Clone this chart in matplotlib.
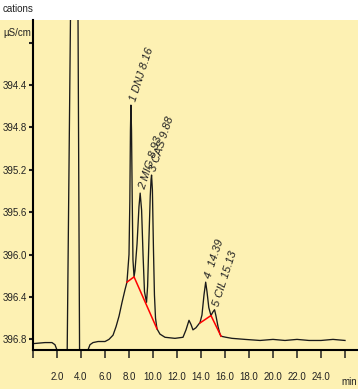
import matplotlib
matplotlib.use("Agg")
import matplotlib.pyplot as plt
from matplotlib.patches import Rectangle

# chromatogram trace, time in min, signal in uS/cm (axis drawn inverted)
trace_t = [0.00, 1.00, 1.58, 1.83, 2.00, 2.08, 2.75, 2.85, 3.19, 3.72, 3.88, 3.95,
           4.50, 4.58, 4.75, 5.00, 5.42, 6.00, 6.33, 6.67, 6.92, 7.17, 7.42, 7.67,
           7.83, 8.00, 8.07, 8.12, 8.16, 8.21, 8.27, 8.33, 8.42, 8.50, 8.67, 8.83,
           8.93, 9.05, 9.17, 9.29, 9.46, 9.55, 9.65, 9.77, 9.84, 9.88, 9.95, 10.04,
           10.12, 10.21, 10.33, 10.58, 11.00, 11.83, 12.50, 12.75, 13.00, 13.17,
           13.33, 13.58, 13.92, 14.08, 14.25, 14.39, 14.50, 14.65, 14.83, 15.00,
           15.13, 15.25, 15.42, 15.58, 15.67, 16.08, 16.58, 17.67, 18.92, 20.00,
           21.00, 22.00, 23.00, 24.00, 25.00, 26.00]
trace_v = [396.84, 396.83, 396.83, 396.85, 396.90, 397.00, 397.00, 396.90, 393.00, 393.00, 396.90, 397.00,
           397.00, 396.90, 396.85, 396.83, 396.82, 396.82, 396.80, 396.76, 396.68, 396.58, 396.45, 396.33,
           396.26, 396.00, 395.49, 394.83, 394.59, 394.83, 395.49, 396.05, 396.21, 396.15, 395.90, 395.55,
           395.42, 395.58, 396.00, 396.35, 396.45, 396.30, 395.90, 395.45, 395.29, 395.25, 395.39, 395.96,
           396.38, 396.60, 396.70, 396.75, 396.78, 396.79, 396.78, 396.71, 396.62, 396.66,
           396.71, 396.69, 396.64, 396.57, 396.38, 396.26, 396.35, 396.50, 396.575, 396.54,
           396.52, 396.58, 396.68, 396.75, 396.77, 396.78, 396.79, 396.80, 396.81, 396.80,
           396.81, 396.80, 396.81, 396.81, 396.80, 396.81]

# integration baselines
base1_t = [7.83, 8.42, 10.33]
base1_v = [396.26, 396.21, 396.70]
base2_t = [13.92, 14.83, 15.67]
base2_v = [396.645, 396.575, 396.77]

# peaks
peak_names = ["1 DNJ 8.16", "2 MIG 8.93", "3 CAS 9.88", "4  14.39", "5 CIL 15.13"]
peak_t = [8.16, 8.93, 9.88, 14.39, 15.13]
peak_v = [394.59, 395.42, 395.25, 396.26, 396.52]

xticks = [0, 2, 4, 6, 8, 10, 12, 14, 16, 18, 20, 22, 24, 26]
xlabels = ["", "2.0", "4.0", "6.0", "8.0", "10.0", "12.0", "14.0", "16.0",
           "18.0", "20.0", "22.0", "24.0", ""]
yticks = [394.0, 394.4, 394.8, 395.2, 395.6, 396.0, 396.4, 396.8]
ylabels = ["", "394.4", "394.8", "395.2", "395.6", "396.0", "396.4", "396.8"]

plt.rcParams["font.family"] = ["Liberation Sans", "DejaVu Sans"]

W, H = 358, 392
fig = plt.figure(figsize=(W / 100, H / 100), dpi=100, facecolor="white")
bg = Rectangle((0, 3 / H), 1, 369 / H, transform=fig.transFigure,
               facecolor="#fdf1b3", edgecolor="none", zorder=-10)
fig.add_artist(bg)

ax = fig.add_axes([33 / W, 42 / H, 324 / W, 330 / H])
ax.set_zorder(5)
ax.patch.set_alpha(0)

ax.plot(trace_t, trace_v, color="#1a1a1a", lw=0.95)
ax.plot(base1_t, base1_v, color="#ff0000", lw=1.1)
ax.plot(base2_t, base2_v, color="#ff0000", lw=1.1)

for name, t, v in zip(peak_names, peak_t, peak_v):
    ax.annotate(name, (t, v), xytext=(2, 4), textcoords="offset pixels",
                rotation=72, rotation_mode="anchor", ha="left", va="center",
                fontsize=8, style="italic", color="#222222", annotation_clip=False)

ax.set_xlim(0, 27)
ax.set_ylim(396.9, 393.787)

for s in ["top", "right"]:
    ax.spines[s].set_visible(False)
for s in ["left", "bottom"]:
    ax.spines[s].set_linewidth(1.5)

ax.set_xticks(xticks)
ax.set_xticklabels(xlabels)
ax.set_yticks(yticks)
ax.set_yticklabels(ylabels)
ax.tick_params(axis="x", direction="out", length=5.8, width=1.1, pad=10, labelsize=7,
               colors="#222222")
ax.tick_params(axis="y", direction="out", length=2.9, width=1.5, pad=1.5, labelsize=7,
               colors="#222222")

fig.text(3 / W, 1 - 9 / H, "cations", fontsize=7, va="center", ha="left", color="#222222")
fig.text(3 / W, 1 - 33 / H, "µS/cm", fontsize=7, va="center", ha="left", color="#222222")
fig.text(349 / W, 1 - 382 / H, "min", fontsize=7, va="center", ha="center", color="#222222")

fig.savefig("out.png", dpi=100, facecolor="white")
